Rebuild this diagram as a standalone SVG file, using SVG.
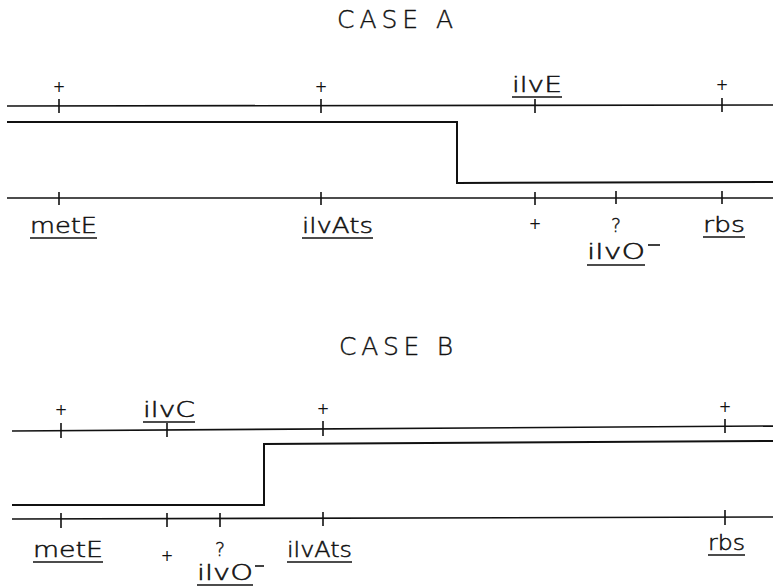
<svg xmlns="http://www.w3.org/2000/svg" width="773" height="587" viewBox="0 0 773 587">
<style>
.ln{stroke:#111;stroke-width:1.6;fill:none}
.st{stroke:#111;stroke-width:2;fill:none}
.tk{stroke:#111;stroke-width:1.6}
.ul{stroke:#111;stroke-width:1.6}
.lb{font-family:"DejaVu Sans","Liberation Sans",sans-serif;font-weight:200;font-size:21px;fill:#111;stroke:#111;stroke-width:0.5}
.ti{font-family:"DejaVu Sans","Liberation Sans",sans-serif;font-weight:200;font-size:25px;fill:#111;stroke:#111;stroke-width:0.4}
.pl{font-family:"DejaVu Sans","Liberation Sans",sans-serif;font-size:15px;fill:#111;text-anchor:middle}
.q{font-family:"DejaVu Sans","Liberation Sans",sans-serif;font-weight:200;font-size:19px;fill:#111;stroke:#111;stroke-width:0.4;text-anchor:middle}
</style>
<rect width="773" height="587" fill="#fff"/>

<g id="caseA">
<text class="ti" x="337" y="28" textLength="116" lengthAdjust="spacing">CASE  A</text>
<g id="connectorsA">
<line class="ln" x1="7" y1="106" x2="773" y2="105"/>
<line class="ln" x1="7" y1="198" x2="773" y2="198"/>
<polyline class="st" points="7,122 457,122 457,183 773,182"/>
</g>
<g id="ticksA">
<line class="tk" x1="59" y1="99" x2="59" y2="113"/>
<line class="tk" x1="321" y1="99" x2="321" y2="113"/>
<line class="tk" x1="535" y1="99" x2="535" y2="113"/>
<line class="tk" x1="722" y1="98" x2="722" y2="112"/>
<line class="tk" x1="59" y1="192" x2="59" y2="205"/>
<line class="tk" x1="321" y1="192" x2="321" y2="205"/>
<line class="tk" x1="535" y1="192" x2="535" y2="205"/>
<line class="tk" x1="616" y1="191" x2="616" y2="204"/>
<line class="tk" x1="722" y1="191" x2="722" y2="204"/>
</g>
<g id="A-metE"><text class="pl" x="59" y="92">+</text>
<text class="lb" x="30" y="233" textLength="67" lengthAdjust="spacingAndGlyphs">metE</text>
<line class="ul" x1="30" y1="238" x2="97" y2="238"/></g>
<g id="A-ilvAts"><text class="pl" x="321" y="92">+</text>
<text class="lb" x="302" y="233" textLength="71" lengthAdjust="spacingAndGlyphs">ilvAts</text>
<line class="ul" x1="302" y1="238" x2="373" y2="238"/></g>
<g id="A-ilvE"><text class="lb" x="512" y="92" textLength="50" lengthAdjust="spacingAndGlyphs">ilvE</text>
<line class="ul" x1="512" y1="97" x2="562" y2="97"/>
<text class="pl" x="535" y="229">+</text></g>
<g id="A-ilvO"><text class="q" x="616" y="232">?</text>
<text class="lb" x="587" y="259" textLength="58" lengthAdjust="spacingAndGlyphs">ilvO</text>
<line class="ul" x1="648" y1="245" x2="660" y2="245"/>
<line class="ul" x1="587" y1="265" x2="645" y2="265"/></g>
<g id="A-rbs"><text class="pl" x="722" y="90">+</text>
<text class="lb" x="703" y="232" textLength="42" lengthAdjust="spacingAndGlyphs">rbs</text>
<line class="ul" x1="703" y1="237" x2="745" y2="237"/></g>
</g>

<g id="caseB">
<text class="ti" x="339" y="355" textLength="114" lengthAdjust="spacing">CASE  B</text>
<g id="connectorsB">
<line class="ln" x1="12" y1="431" x2="773" y2="426"/>
<line class="ln" x1="12" y1="519" x2="773" y2="517"/>
<polyline class="st" points="12,505 264,505 264,444 773,441"/>
</g>
<g id="ticksB">
<line class="tk" x1="61" y1="423" x2="61" y2="438"/>
<line class="tk" x1="167" y1="423" x2="167" y2="437"/>
<line class="tk" x1="323" y1="421" x2="323" y2="436"/>
<line class="tk" x1="725" y1="419" x2="725" y2="433"/>
<line class="tk" x1="61" y1="513" x2="61" y2="528"/>
<line class="tk" x1="167" y1="513" x2="167" y2="527"/>
<line class="tk" x1="220" y1="513" x2="220" y2="527"/>
<line class="tk" x1="323" y1="512" x2="323" y2="526"/>
<line class="tk" x1="725" y1="510" x2="725" y2="525"/>
</g>
<g id="B-metE"><text class="pl" x="61" y="415">+</text>
<text class="lb" x="33" y="557" textLength="70" lengthAdjust="spacingAndGlyphs">metE</text>
<line class="ul" x1="33" y1="562" x2="103" y2="562"/></g>
<g id="B-ilvC"><text class="lb" x="143" y="417" textLength="52" lengthAdjust="spacingAndGlyphs">ilvC</text>
<line class="ul" x1="143" y1="422" x2="195" y2="422"/>
<text class="pl" x="167" y="561">+</text></g>
<g id="B-ilvO"><text class="q" x="220" y="556">?</text>
<text class="lb" x="197" y="580" textLength="56" lengthAdjust="spacingAndGlyphs">ilvO</text>
<line class="ul" x1="255" y1="566" x2="264" y2="566"/>
<line class="ul" x1="197" y1="585" x2="253" y2="585"/></g>
<g id="B-ilvAts"><text class="pl" x="323" y="414">+</text>
<text class="lb" x="287" y="557" textLength="65" lengthAdjust="spacingAndGlyphs">ilvAts</text>
<line class="ul" x1="287" y1="562" x2="352" y2="562"/></g>
<g id="B-rbs"><text class="pl" x="725" y="412">+</text>
<text class="lb" x="708" y="550" textLength="37" lengthAdjust="spacingAndGlyphs">rbs</text>
<line class="ul" x1="708" y1="555" x2="745" y2="555"/></g>
</g>
</svg>
